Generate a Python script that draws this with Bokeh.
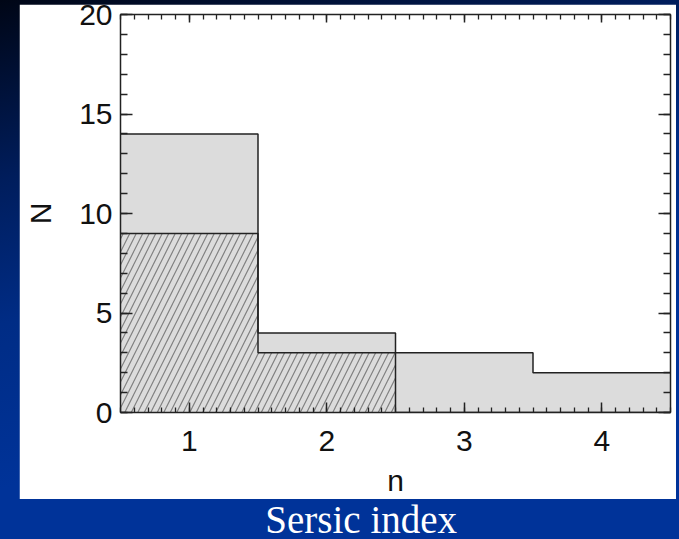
import numpy as np
from bokeh.plotting import figure
from bokeh.models import LinearAxis, SingleIntervalTicker, Range1d, CustomJSTickFormatter
from bokeh.layouts import column
from bokeh.embed import file_html
from bokeh.resources import INLINE
from bokeh.core.properties import value

# ---- data ----
sersic_n = [1, 2, 3, 4]          # bin centres
count_all = [14, 4, 3, 2]        # grey histogram
count_hatched = [9, 3, 0, 0]     # hatched sub-sample
x_label = "n"
y_label = "N"
caption = "Sersic index"

bin_width = 1.0
centers = np.array(sersic_n, dtype=float)
left = centers - bin_width / 2
right = centers + bin_width / 2
edges = np.append(left, right[-1])

FONT = "Liberation Sans"
INK = "#222222"
FILL = "#dcdcdc"

p = figure(width=657, height=495,
           x_range=Range1d(left[0], right[-1]), y_range=Range1d(0, 20),
           output_backend="svg", toolbar_location=None,
           min_border_left=101, min_border_right=6, min_border_top=10, min_border_bottom=82,
           border_fill_color="white", background_fill_color="white",
           outline_line_color=None)
p.grid.visible = False
p.margin = (4, 0, 0, 19)

# fills
p.quad(left=left, right=right, bottom=0, top=count_all,
       fill_color=FILL, line_color=None)
p.quad(left=left, right=right, bottom=0, top=count_hatched,
       fill_color=FILL, line_color=None,
       hatch_pattern="/", hatch_color="#808080", hatch_scale=13, hatch_weight=1.2)

# step outlines
p.step(x=edges, y=np.append(count_all, count_all[-1]), mode="after",
       line_color=INK, line_width=1.5)
p.step(x=edges, y=np.append(count_hatched, count_hatched[-1]), mode="after",
       line_color=INK, line_width=1.5)

blank = CustomJSTickFormatter(code="return '';")


def style(ax, major_in, minor_in, labels=True):
    ax.axis_line_color = INK
    ax.axis_line_width = 1.5
    ax.major_tick_in = major_in
    ax.major_tick_out = 0
    ax.minor_tick_in = minor_in
    ax.minor_tick_out = 0
    ax.major_tick_line_color = INK
    ax.major_tick_line_width = 1.5
    ax.minor_tick_line_color = INK
    ax.minor_tick_line_width = 1.3
    if labels:
        ax.major_label_text_font = FONT
        ax.major_label_text_font_size = "30px"
        ax.major_label_text_color = "#111111"
        ax.axis_label_text_font = FONT
        ax.axis_label_text_font_size = "30px"
        ax.axis_label_text_font_style = "normal"
        ax.axis_label_text_color = "#111111"
    else:
        ax.formatter = blank
        ax.major_label_text_font_size = "1px"
        ax.major_label_standoff = 0


xb = p.xaxis[0]
xb.ticker = SingleIntervalTicker(interval=1, num_minor_ticks=10)
xb.axis_label = x_label
style(xb, 10, 5)
xb.major_label_standoff = 18
xb.axis_label_standoff = 10

yl = p.yaxis[0]
yl.ticker = SingleIntervalTicker(interval=5, num_minor_ticks=5)
yl.axis_label = y_label
style(yl, 12, 7)
yl.major_label_standoff = 8
yl.axis_label_standoff = 19

xt = LinearAxis(ticker=SingleIntervalTicker(interval=1, num_minor_ticks=10))
style(xt, 8, 5, labels=False)
p.add_layout(xt, "above")

yr = LinearAxis(ticker=SingleIntervalTicker(interval=5, num_minor_ticks=5))
style(yr, 12, 7, labels=False)
p.add_layout(yr, "right")

# caption below the white panel (its frame is aligned with the main frame: 120.5..670 px)
p2 = figure(width=657, height=40, x_range=Range1d(120.5, 670), y_range=Range1d(0, 40),
            output_backend="svg", toolbar_location=None,
            x_axis_type=None, y_axis_type=None, min_border=0,
            border_fill_color=None, background_fill_color=None,
            outline_line_color=None)
p2.margin = (0, 0, 0, 19)
p2.text(x=[361], y=[20], text=[caption], text_align="center",
        text_baseline="middle", text_color="white",
        text_font=value("Liberation Serif"), text_font_size="39px")

layout = column(p, p2, spacing=0)

html = file_html(layout, INLINE, title=caption)
css = ("<style>html{min-height:100%;background:linear-gradient(165deg,#000616 0%,"
       "#001d5c 25%,#002c85 45%,#003399 68%,#003399 100%) no-repeat;}"
       "body{background:transparent;}</style>")
html = html.replace("</head>", css + "</head>", 1)
open("out.html", "w").write(html)
